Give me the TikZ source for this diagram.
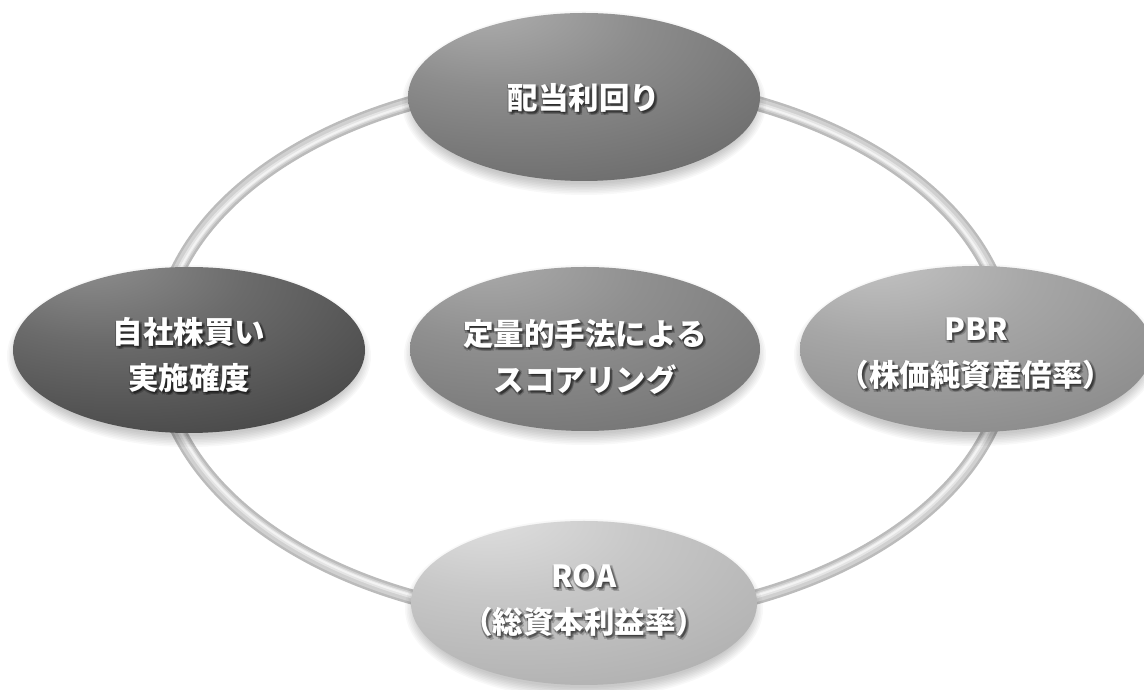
\documentclass[tikz,border=0pt]{standalone}
\usepackage{fontspec}
\newfontfamily\cjk{Noto Sans CJK JP}
\usetikzlibrary{shapes.geometric,calc}
\definecolor{ringA}{HTML}{BBBBBB}
\definecolor{ringB}{HTML}{D0D0D0}
\definecolor{ringC}{HTML}{E4E4E4}
\definecolor{ringD}{HTML}{F3F3F3}
\newcommand\mkorb[3]{%
  \pgfdeclareradialshading{#1}{\pgfpoint{-16bp}{30bp}}{%
    color(0bp)=(#2); color(20bp)=(#2!45!#3); color(42bp)=(#3); color(58bp)=(#3!82!black); color(80bp)=(#3!82!black)}}
\definecolor{hlT}{HTML}{B2B2B2}\definecolor{bsT}{HTML}{6E6E6E}
\definecolor{hlL}{HTML}{939393}\definecolor{bsL}{HTML}{4A4A4A}
\definecolor{hlC}{HTML}{AEAEAE}\definecolor{bsC}{HTML}{777777}
\definecolor{hlR}{HTML}{C6C6C6}\definecolor{bsR}{HTML}{8D8D8D}
\definecolor{hlB}{HTML}{E2E2E2}\definecolor{bsB}{HTML}{B2B2B2}
\mkorb{orbT}{hlT}{bsT}
\mkorb{orbL}{hlL}{bsL}
\mkorb{orbC}{hlC}{bsC}
\mkorb{orbR}{hlR}{bsR}
\mkorb{orbB}{hlB}{bsB}
\tikzset{
  orb/.style={ellipse, inner sep=0pt, minimum width=352pt, minimum height=166pt},
  lbl/.style={align=center, text=white, font=\cjk\bfseries\fontsize{30.5}{46}\selectfont},
  lblshadow/.style={lbl, text=black, text opacity=0.2},
}
\newcommand\orbshadow[4]{%
  \foreach \k in {0,...,7}{%
    \fill[black, opacity=0.028] (#1,#2-6) ellipse [x radius=#3+6-\k*1.6, y radius=#4+8-\k*1.6];
  }}
\newcommand\orblabel[3]{%
  \foreach \dx/\dy in {2/-2, 3.2/-3.2, 0.5/-2.5, 2.5/-0.5, -1/-1}{%
    \node[lblshadow] at ([shift={(\dx pt,\dy pt)}]#2) {#3};
  }
  \node[lbl] (#1) at (#2) {#3};}
\begin{document}
\begin{tikzpicture}[x=1pt,y=1pt]
\useasboundingbox (0,0) rectangle (1144,690);
\fill[white] (0,0) rectangle (1144,690);
% ring
\coordinate (ringc) at (584,340);
\draw[ringA, line width=15pt] (ringc) ellipse [x radius=425, y radius=270];
\draw[ringB, line width=10pt] (ringc) ellipse [x radius=425, y radius=270];
\draw[ringC, line width=5pt] (ringc) ellipse [x radius=424, y radius=269];
\draw[ringD, line width=2pt] (ringc) ellipse [x radius=423.5, y radius=268.5];
% shadows
\orbshadow{584}{593}{176}{84}
\orbshadow{189}{340}{176}{83}
\orbshadow{585}{341}{175}{82}
\orbshadow{976}{341}{176}{83}
\orbshadow{584}{87}{173}{82}
% ellipses
\node[orb, shading=orbT, minimum height=168pt] (top) at (584,593) {};
\node[orb, shading=orbL] (left) at (189,340) {};
\node[orb, shading=orbC, minimum width=350pt, minimum height=164pt] (center) at (585,341) {};
\node[orb, shading=orbR] (right) at (976,341) {};
\node[orb, shading=orbB, minimum width=346pt, minimum height=164pt] (bottom) at (584,87) {};
% labels
\orblabel{topt}{584,592}{配当利回り}
\orblabel{leftt}{189,335}{自社株買い\\実施確度}
\orblabel{centert}{585,333}{定量的手法による\\スコアリング}
\orblabel{rightt}{976,336}{PBR\\（株価純資産倍率）}
\orblabel{bottomt}{584,89}{ROA\\（総資本利益率）}
\end{tikzpicture}
\end{document}
